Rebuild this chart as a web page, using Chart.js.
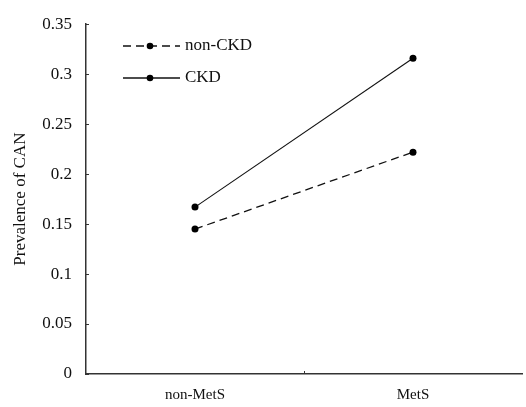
<!DOCTYPE html>
<html><head><meta charset="utf-8">
<script src="https://cdn.jsdelivr.net/npm/chart.js@4/dist/chart.umd.min.js"></script>
<style>html,body{margin:0;padding:0;background:#fff}#wrap{width:526px;height:407px}</style>
</head><body><div id="wrap"><canvas id="c"></canvas></div>
<script>
const categories = ["non-MetS", "MetS"];
const nonCKD = [0.145, 0.222];
const CKD = [0.167, 0.316];
const yTicks = [0, 0.05, 0.1, 0.15, 0.2, 0.25, 0.3, 0.35];
const seriesNames = ["non-CKD", "CKD"];
const FONT = "'Liberation Serif', 'Times New Roman', serif";

const decor = {
  id: 'decor',
  afterDraw(chart) {
    const ctx = chart.ctx, y = chart.scales.y, x = chart.scales.x, a = chart.chartArea;
    ctx.save();
    ctx.strokeStyle = '#333'; ctx.lineWidth = 1;
    yTicks.forEach(v => {
      const py = Math.round(y.getPixelForValue(v)) + 0.5;
      ctx.beginPath(); ctx.moveTo(a.left, py); ctx.lineTo(a.left + 3, py); ctx.stroke();
    });
    for (let i = 1; i < categories.length; i++) {
      const px = Math.round((x.getPixelForValue(i - 1) + x.getPixelForValue(i)) / 2) + 0.5;
      ctx.beginPath(); ctx.moveTo(px, a.bottom); ctx.lineTo(px, a.bottom - 3); ctx.stroke();
    }
    // legend
    const items = [{name: seriesNames[0], dash: [8, 5], y: 46}, {name: seriesNames[1], dash: [], y: 78}];
    items.forEach(it => {
      ctx.strokeStyle = '#111'; ctx.lineWidth = 1.3; ctx.setLineDash(it.dash);
      ctx.beginPath(); ctx.moveTo(123, it.y); ctx.lineTo(180, it.y); ctx.stroke();
      ctx.setLineDash([]);
      ctx.fillStyle = '#000'; ctx.beginPath(); ctx.arc(150, it.y, 3.3, 0, Math.PI * 2); ctx.fill();
      ctx.fillStyle = '#111'; ctx.font = '17px ' + FONT; ctx.textBaseline = 'middle'; ctx.textAlign = 'left';
      ctx.fillText(it.name, 185, it.y);
    });
    ctx.restore();
  }
};

new Chart(document.getElementById('c'), {
  type: 'line',
  data: {
    labels: categories,
    datasets: [
      {label: seriesNames[0], data: nonCKD, borderColor: '#111', borderWidth: 1.3, borderDash: [8, 5],
       pointRadius: 3.5, pointBackgroundColor: '#000', pointBorderColor: '#000', pointBorderWidth: 0, fill: false, tension: 0},
      {label: seriesNames[1], data: CKD, borderColor: '#111', borderWidth: 1.1,
       pointRadius: 3.5, pointBackgroundColor: '#000', pointBorderColor: '#000', pointBorderWidth: 0, fill: false, tension: 0}
    ]
  },
  options: {
    responsive: true, maintainAspectRatio: false, animation: false,
    layout: {padding: {left: 0, right: 0, top: 20, bottom: 0}},
    plugins: {legend: {display: false}, tooltip: {enabled: false}},
    scales: {
      x: {
        offset: true,
        grid: {display: false, drawTicks: false},
        border: {display: true, color: '#333', width: 1.5},
        ticks: {font: {family: FONT, size: 15}, color: '#111', padding: 12},
        afterFit(s) { s.height = 33; }
      },
      y: {
        min: 0, max: 0.35,
        afterBuildTicks(s) { s.ticks = yTicks.map(v => ({value: v})); },
        grid: {display: false, drawTicks: false},
        border: {display: true, color: '#333', width: 1.5},
        ticks: {font: {family: FONT, size: 17}, color: '#111', padding: 14,
          callback: v => String(v)},
        title: {display: true, text: 'Prevalence of CAN', font: {family: FONT, size: 17}, color: '#111', padding: {top: 10, bottom: 0}},
        afterFit(s) { s.width = 86; }
      }
    }
  },
  plugins: [decor]
});
</script></body></html>
